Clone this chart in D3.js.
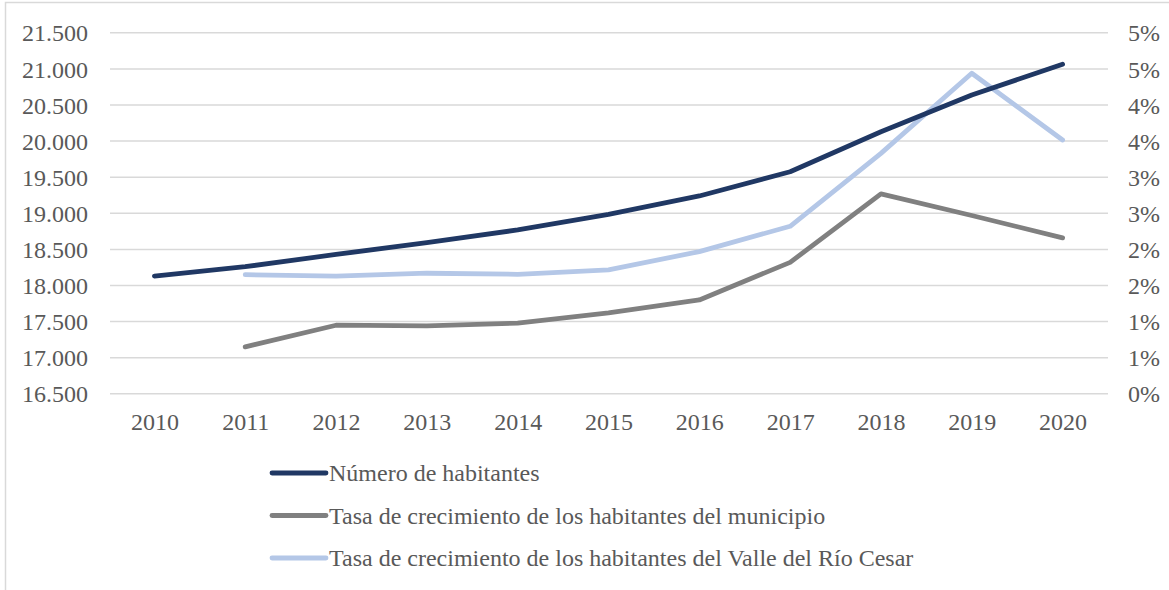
<!DOCTYPE html>
<html>
<head>
<meta charset="utf-8">
<script src="https://cdn.jsdelivr.net/npm/d3@7"></script>
<style>
    body { margin: 0; background: #fff; }
    svg text { font-family: 'Liberation Serif', 'Times New Roman', serif; fill: #595959; }
</style>
</head>
<body>
<div id="chart"></div>
<script>
'use strict';

// Data
const years = ['2010', '2011', '2012', '2013', '2014', '2015', '2016', '2017', '2018', '2019', '2020'];
const habitantes = [18130, 18260, 18430, 18593, 18770, 18986, 19240, 19576, 20130, 20638, 21064];
const tasaMunicipio = [null, 0.65, 0.95, 0.94, 0.98, 1.12, 1.30, 1.82, 2.77, 2.47, 2.16];
const tasaValle = [null, 1.65, 1.63, 1.67, 1.655, 1.715, 1.97, 2.32, 3.33, 4.44, 3.515];
const leftTicks = [16500, 17000, 17500, 18000, 18500, 19000, 19500, 20000, 20500, 21000, 21500];
const rightTicks = [0, 0.5, 1, 1.5, 2, 2.5, 3, 3.5, 4, 4.5, 5];
const seriesNames = [
    'Número de habitantes',
    'Tasa de crecimiento de los habitantes del municipio',
    'Tasa de crecimiento de los habitantes del Valle del Río Cesar'
];
const seriesColors = ['#203864', '#808080', '#B4C7E7'];

// Config
const w = 1169;
const h = 590;
const plot = {left: 109, right: 1108, top: 32.8, bottom: 393.8};
const fontSize = 24;

const svg = d3.select('#chart')
    .append('svg')
    .attr('width', w)
    .attr('height', h);

// Frame
svg.append('path')
    .attr('d', `M5.5,${h + 5} V2.5 H${w + 5}`)
    .attr('fill', 'none')
    .attr('stroke', '#d9d9d9')
    .attr('stroke-width', 1.5);

// Scales
const xScale = d3.scalePoint()
    .domain(years)
    .range([plot.left, plot.right])
    .padding(0.5);

const yLeft = d3.scaleLinear()
    .domain([16500, 21500])
    .range([plot.bottom, plot.top]);

const yRight = d3.scaleLinear()
    .domain([0, 5])
    .range([plot.bottom, plot.top]);

const esLocale = d3.formatLocale({decimal: ',', thousands: '.', grouping: [3], currency: ['$', '']});
const fmtLeft = esLocale.format(',');

// Gridlines
svg.append('g')
    .attr('class', 'grid')
    .selectAll('line')
    .data(leftTicks)
    .join('line')
    .attr('x1', plot.left + 1)
    .attr('x2', plot.right)
    .attr('y1', d => yLeft(d))
    .attr('y2', d => yLeft(d))
    .attr('stroke', '#d9d9d9')
    .attr('stroke-width', 1.5);

// Left axis
const leftAxis = svg.append('g')
    .attr('transform', `translate(${plot.left - 21},0)`)
    .call(d3.axisLeft(yLeft).tickValues(leftTicks).tickFormat(fmtLeft).tickSize(0).tickPadding(0));

// Right axis
const rightAxis = svg.append('g')
    .attr('transform', `translate(${plot.right + 20},0)`)
    .call(d3.axisRight(yRight).tickValues(rightTicks).tickFormat(d => Math.round(d) + '%').tickSize(0).tickPadding(0));

// Bottom axis
const bottomAxis = svg.append('g')
    .attr('transform', `translate(0,${plot.bottom + 28})`)
    .call(d3.axisBottom(xScale).tickSize(0).tickPadding(0));

[leftAxis, rightAxis, bottomAxis].forEach(a => {
    a.select('.domain').remove();
    a.selectAll('text')
        .attr('font-family', null)
        .style('font-size', `${fontSize}px`)
        .attr('fill', '#595959')
        .attr('dy', '0.34em');
});

// Lines
const lineLeft = d3.line()
    .defined(d => d.v !== null)
    .x(d => xScale(d.year))
    .y(d => yLeft(d.v));

const lineRight = d3.line()
    .defined(d => d.v !== null)
    .x(d => xScale(d.year))
    .y(d => yRight(d.v));

const toPoints = arr => years.map((year, i) => ({year, v: arr[i]}));

const series = [
    {values: tasaMunicipio, gen: lineRight, color: seriesColors[1]},
    {values: tasaValle, gen: lineRight, color: seriesColors[2]},
    {values: habitantes, gen: lineLeft, color: seriesColors[0]}
];

series.forEach(s => {
    svg.append('path')
        .datum(toPoints(s.values))
        .attr('d', s.gen)
        .attr('fill', 'none')
        .attr('stroke', s.color)
        .attr('stroke-width', 4.8)
        .attr('stroke-linecap', 'round')
        .attr('stroke-linejoin', 'round');
});

// Legend
const legendY = [473, 515.5, 558];
const legend = svg.append('g')
    .selectAll('g')
    .data(seriesNames)
    .join('g')
    .attr('transform', (d, i) => `translate(272,${legendY[i]})`);

legend.append('line')
    .attr('x1', 0)
    .attr('x2', 54)
    .attr('stroke', (d, i) => seriesColors[i])
    .attr('stroke-width', 4.8)
    .attr('stroke-linecap', 'round');

legend.append('text')
    .attr('x', 57)
    .attr('dy', '0.34em')
    .style('font-size', `${fontSize}px`)
    .text(d => d);
</script>
</body>
</html>
